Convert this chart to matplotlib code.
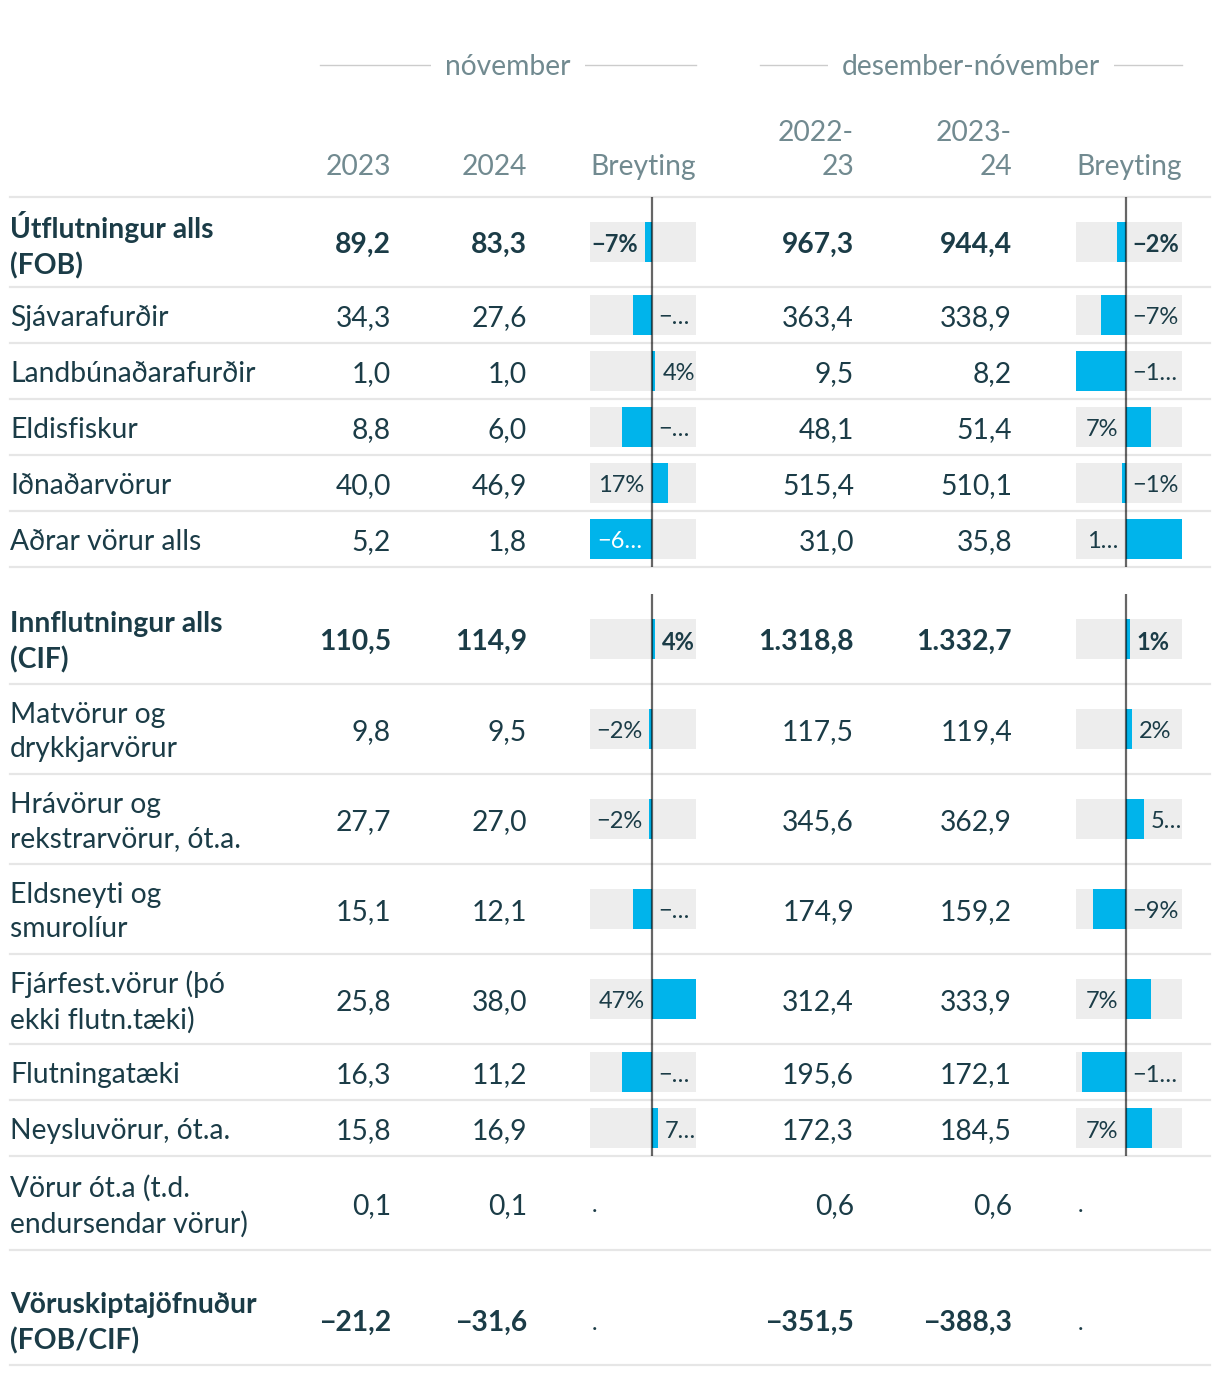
import numpy as np
import matplotlib.pyplot as plt

# Data (ma.kr.)
rows = ['Útflutningur alls\n(FOB)', 'Sjávarafurðir', 'Landbúnaðarafurðir', 'Eldisfiskur',
        'Iðnaðarvörur', 'Aðrar vörur alls', 'Innflutningur alls\n(CIF)',
        'Matvörur og\ndrykkjarvörur', 'Hrávörur og\nrekstrarvörur, ót.a.',
        'Eldsneyti og\nsmurolíur', 'Fjárfest.vörur (þó\nekki flutn.tæki)',
        'Flutningatæki', 'Neysluvörur, ót.a.', 'Vörur ót.a (t.d.\nendursendar vörur)',
        'Vöruskiptajöfnuður\n(FOB/CIF)']
bold_rows = [0, 6, 14]
nov_2023 = [89.2, 34.3, 1.0, 8.8, 40.0, 5.2, 110.5, 9.8, 27.7, 15.1, 25.8, 16.3, 15.8, 0.1, -21.2]
nov_2024 = [83.3, 27.6, 1.0, 6.0, 46.9, 1.8, 114.9, 9.5, 27.0, 12.1, 38.0, 11.2, 16.9, 0.1, -31.6]
dn_2223 = [967.3, 363.4, 9.5, 48.1, 515.4, 31.0, 1318.8, 117.5, 345.6, 174.9, 312.4, 195.6, 172.3, 0.6, -351.5]
dn_2324 = [944.4, 338.9, 8.2, 51.4, 510.1, 35.8, 1332.7, 119.4, 362.9, 159.2, 333.9, 172.1, 184.5, 0.6, -388.3]
chg_nov = [-6.6, -19.5, 4.0, -31.8, 17.3, -65.4, 4.0, -2.4, -2.4, -19.9, 47.3, -31.3, 7.0, np.nan, np.nan]
chg_dn = [-2.4, -6.7, -13.7, 6.9, -1.0, 15.5, 1.1, 1.6, 5.0, -9.0, 6.9, -12.0, 7.1, np.nan, np.nan]

groups = ['nóvember', 'desember-nóvember']
col_heads = ['2023', '2024', 'Breyting', '2022-\n23', '2023-\n24', 'Breyting']

# Stíll
plt.rcParams['font.family'] = ['Lato', 'DejaVu Sans']
TXT = '#1b3c47'
HEAD = '#718a90'
BLUE = '#00b4eb'
FS = 20.3
FS_BAR = 17
DY = 3  # lóðrétt leiðrétting á texta

W, H = 1220, 1376
fig = plt.figure(figsize=(W / 100, H / 100), dpi=100)
ax = fig.add_axes([0, 0, 1, 1])
ax.set_xlim(0, W)
ax.set_ylim(H, 0)
ax.axis('off')
renderer = fig.canvas.get_renderer()

num_right = [391, 527, 854, 1012]
bar_cells = [(590, 696), (1076, 1182)]

# raðir: hæð eftir línufjölda, bil á undan innflutningi og jöfnuði
top = 197
spacer_before = {6: 27, 14: 25}
centers, bounds = [], []
y = top
for i, r in enumerate(rows):
    y += spacer_before.get(i, 0)
    h = 56 if '\n' not in r else (94 if i == 13 else 90)
    bounds.append((y, y + h))
    centers.append(y + h / 2)
    y += h

# haus
ax.plot([10, 1210], [top, top], color='#e6e6e6', lw=1.6)
for (x0, x1), g in zip([(320, 696), (760, 1182)], groups):
    ax.plot([x0, x1], [65, 65], color='#cccccc', lw=1)
    ax.text((x0 + x1) / 2, 64 + DY, g, ha='center', va='center', fontsize=FS, color=HEAD,
            bbox=dict(boxstyle='square,pad=0.5', fc='white', ec='none'))
head_x = [num_right[0], num_right[1], bar_cells[0][1], num_right[2], num_right[3], bar_cells[1][1]]
for x, t in zip(head_x, col_heads):
    yc = 147 if '\n' in t else 164
    ax.text(x, yc + DY, t, ha='right', va='center', multialignment='right', fontsize=FS,
            color=HEAD, linespacing=1.4)


def fmt(v):
    s = f'{abs(v):,.1f}'.replace(',', 'X').replace('.', ',').replace('X', '.')
    return ('−' if v < 0 else '') + s


for i, r in enumerate(rows):
    wt = 'bold' if i in bold_rows else 'normal'
    yc = centers[i] + DY
    ax.text(10, yc, r, ha='left', va='center', fontsize=FS, color=TXT, fontweight=wt,
            linespacing=1.4)
    for x, vals in zip(num_right, [nov_2023, nov_2024, dn_2223, dn_2324]):
        ax.text(x, yc, fmt(vals[i]), ha='right', va='center', fontsize=FS, color=TXT,
                fontweight=wt)
    ax.plot([10, 1210], [bounds[i][1]] * 2, color='#e6e6e6', lw=1.6)


def text_w(s, wt):
    t = ax.text(0, 0, s, fontsize=FS_BAR, fontweight=wt)
    w = t.get_window_extent(renderer).width
    t.remove()
    return w


def shorten(s, avail, wt):
    # stytta með '…' þar til textinn passar
    n = len(s) - 1
    while n > 0 and text_w(s[:n] + '…', wt) > avail:
        n -= 1
    return s[:n] + '…' if n > 0 else '…'


def fit(s, avail, wt):
    return s if text_w(s, wt) <= avail else shorten(s, avail, wt)


pad = 7
slack = 5
for (cx0, cx1), chg in zip(bar_cells, [chg_nov, chg_dn]):
    chg = np.array(chg, dtype=float)
    lo, hi = np.nanmin(chg), np.nanmax(chg)
    cw = cx1 - cx0
    bx = fig.add_axes([cx0 / W, 0, cw / W, 1])
    bx.set_xlim(lo, hi)
    bx.set_ylim(H, 0)
    bx.axis('off')
    ppu = cw / (hi - lo)
    has = ~np.isnan(chg)
    yc = np.array(centers)
    bx.barh(yc[has], hi - lo, left=lo, height=40, color='#ededed', zorder=1)
    bx.barh(yc[has], chg[has], height=40, color=BLUE, zorder=2)
    # núlllína fyrir hvorn hóp
    for a, b in [(0, 5), (6, 12)]:
        y0 = top if a == 0 else bounds[a][0]
        bx.vlines(0, y0, bounds[b][1], color='black', alpha=0.6, lw=1.6, zorder=3)
    for i in range(len(rows)):
        wt = 'bold' if i in bold_rows else 'normal'
        v = chg[i]
        if np.isnan(v):
            ax.text(cx0 + 2, yc[i] + DY, '.', ha='left', va='center', fontsize=FS_BAR, color=TXT)
            continue
        s = ('−' if v < 0 else '') + f'{abs(round(v)):.0f}%'
        bar_px = abs(v) * ppu
        if v < 0:
            out_sp = -lo * ppu - bar_px - pad
            opp_sp = hi * ppu - pad
        else:
            out_sp = hi * ppu - bar_px - pad
            opp_sp = -lo * ppu - pad
        sgn = -1 if v < 0 else 1
        w = text_w(s, wt)
        if w <= out_sp + slack:
            if w > out_sp:
                s = shorten(s, out_sp + slack, wt)
            x, off, ha, col = v, sgn * pad, ('right' if v < 0 else 'left'), TXT
        elif bar_px > 0.55 * cw:
            s = fit(s, bar_px - 2 * pad, wt)
            x, off, ha, col = v, -sgn * pad, ('left' if v < 0 else 'right'), 'white'
        else:
            s = fit(s, opp_sp, wt)
            x, off, ha, col = 0, -sgn * pad, ('left' if v < 0 else 'right'), TXT
        bx.annotate(s, (x, yc[i]), xytext=(off, -DY), textcoords='offset pixels',
                    ha=ha, va='center', fontsize=FS_BAR, color=col, fontweight=wt, zorder=4)

fig.savefig('out.png', dpi=100, facecolor='white')
